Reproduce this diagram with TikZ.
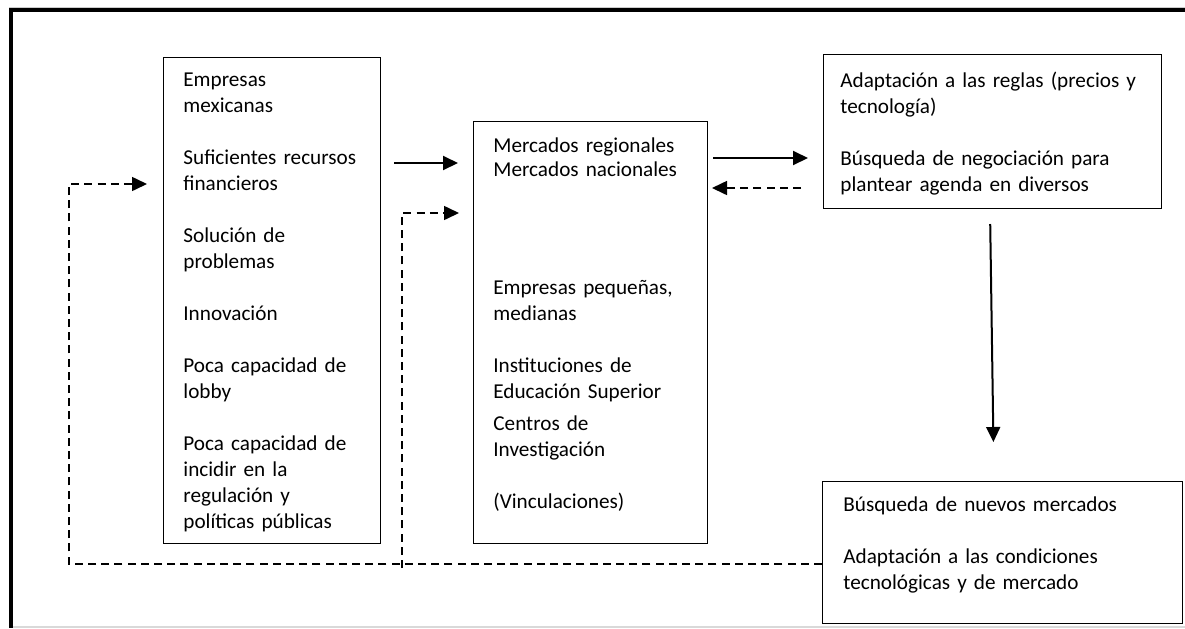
\documentclass[tikz,border=0pt]{standalone}
\usepackage{fontspec}
\setmainfont{Carlito}
\usepackage{tikz}
\usetikzlibrary{arrows.meta}

\tikzset{
	caja/.style={draw, line width=0.5pt, anchor=north west, inner sep=0pt},
	texto/.style={anchor=base west, align=left, text width=#1, inner sep=0pt,
		font=\fontsize{10.6}{13}\selectfont},
	flecha/.style={line width=1pt, -{Triangle[length=7.5pt,width=7pt]}},
	retorno/.style={line width=0.8pt, dash pattern=on 4pt off 2.6pt,
		-{Triangle[length=7.5pt,width=7pt]}},
}

\begin{document}
\begin{tikzpicture}[x=0.5pt, y=-0.5pt]

\useasboundingbox (0,0) rectangle (1185,628);

% marco
\draw[gray!40, line width=0.5pt] (9,7)--(1185,7);
\draw[gray!30, line width=0.6pt] (13,627)--(1185,627);
\draw[line width=2pt] (9,10)--(1185,10);
\draw[line width=2pt] (11,8)--(11,628);

% cajas
\node[caja, minimum width=108.5pt, minimum height=243pt] (emp) at (163,57)  {};
\node[caja, minimum width=117pt,   minimum height=211pt] (mer) at (473,121) {};
\node[caja, minimum width=169pt,   minimum height=77pt]  (reg) at (823,54)  {};
\node[caja, minimum width=180pt,   minimum height=71pt]  (bus) at (822,481) {};

\node[texto=100pt] (empT) at (183,86) {Empresas\\ mexicanas\\[13pt]
	Suficientes recursos\\ financieros\\[13pt]
	Solución de\\ problemas\\[13pt]
	Innovación\\[13pt]
	Poca capacidad de\\ lobby\\[13pt]
	Poca capacidad de\\ incidir en la\\ regulación y\\ políticas públicas};

\node[texto=105pt] (merT) at (493,152) {Mercados regionales\\[-1pt]
	Mercados nacionales\\[46pt]
	Empresas pequeñas,\\ medianas\\[13pt]
	Instituciones de\\ Educación Superior\\[3pt]
	Centros de\\ Investigación\\[13pt]
	(Vinculaciones)};

\node[texto=160pt] (regT) at (840,87) {Adaptación a las reglas (precios y\\ tecnología)\\[13pt]
	Búsqueda de negociación para\\ plantear agenda en diversos};

\node[texto=165pt] (busT) at (843,511) {Búsqueda de nuevos mercados\\[13pt]
	Adaptación a las condiciones\\ tecnológicas y de mercado};

% filas de las flechas
\coordinate (r1) at (0,163);
\coordinate (r2) at (0,158);
\coordinate (r3) at (0,188);
\coordinate (r4) at (0,184);
\coordinate (r5) at (0,213);
\coordinate (c1) at (990,0);
\coordinate (c2) at (994,0);
\coordinate (esq) at (69,564);
\coordinate (pie) at (402,568);

\draw[flecha, shorten <=6.5pt, shorten >=7.5pt] (emp.east |- r1)--(mer.west |- r1);
\draw[flecha, shorten <=2.5pt, shorten >=7.5pt] (mer.east |- r2)--(reg.west |- r2);
\draw[retorno, shorten <=11pt, shorten >=2pt] (reg.west |- r3)--(mer.east |- r3);
\draw[flecha, shorten <=7.5pt, shorten >=19.5pt] (reg.south -| c1)--(bus.north -| c2);

\draw[retorno, shorten >=8pt] (bus.west |- esq)--(esq) |- (emp.west |- r4);
\draw[retorno, shorten >=7pt] (pie) |- (mer.west |- r5);

\end{tikzpicture}
\end{document}
